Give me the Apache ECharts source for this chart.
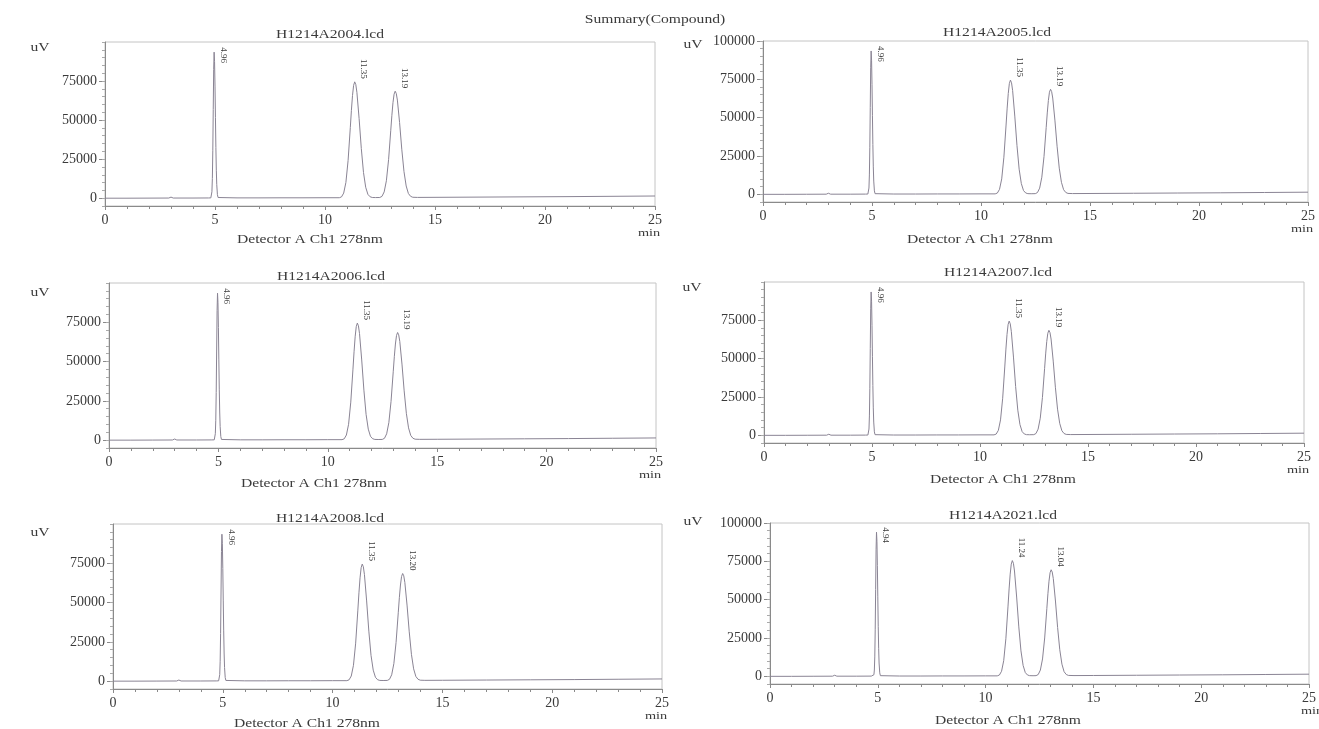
<!DOCTYPE html>
<html><head><meta charset="utf-8">
<script src="https://cdn.jsdelivr.net/npm/echarts@6/dist/echarts.min.js"></script>
<style>html,body{margin:0;padding:0;background:#fff}#c{width:1319px;height:729px}</style>
</head><body><div id="c"></div>
<script>
// ---------- data ----------
const summaryTitle = 'Summary(Compound)';
const fileNames = ['H1214A2004.lcd','H1214A2005.lcd','H1214A2006.lcd','H1214A2007.lcd','H1214A2008.lcd','H1214A2021.lcd'];
const detectorName = 'Detector A Ch1 278nm';
const xUnit = 'min';
const yUnit = 'uV';
const xTickValues = [0,5,10,15,20,25];
const yTickValuesShort = [0,25000,50000,75000];
const yTickValuesFull = [0,25000,50000,75000,100000];
const peakLabels = [
  ['4.96','11.35','13.19'],
  ['4.96','11.35','13.19'],
  ['4.96','11.35','13.19'],
  ['4.96','11.35','13.19'],
  ['4.96','11.35','13.20'],
  ['4.94','11.24','13.04']
];
const peakTimes = [
  [4.96,11.35,13.19],[4.96,11.35,13.19],[4.96,11.35,13.19],
  [4.96,11.35,13.19],[4.96,11.35,13.20],[4.94,11.24,13.04]
];
const peakHeights = [
  [93500,74500,68500],[93500,74500,68500],[93500,74500,68500],
  [93500,74500,68500],[93500,74500,68500],[94000,75500,69500]
];
// chromatogram trace read from runs 2004-2008 (time [min], signal [uV])
const traceA = [
[0,0],[1,0],[2,50],[2.9,100],[3.0,700],[3.1,100],[4,100],[4.7,150],[4.81,200],[4.84,1040],[4.86,4100],[4.88,12650],
[4.90,30360],[4.92,56710],[4.94,82510],[4.96,93500],[4.98,87510],[5.00,71770],[5.02,51570],[5.04,32460],[5.06,17900],
[5.08,8660],[5.11,2270],[5.14,440],[5.21,200],[6,200],[7,200],[8,250],[9,250],[10,300],[10.65,300],[10.75,830],
[10.85,3270],[10.95,10080],[11.05,24190],[11.15,45180],[11.20,56230],[11.25,65750],[11.30,72190],[11.35,74500],
[11.40,72760],[11.45,67780],[11.55,51030],[11.65,31810],[11.75,16390],[11.85,7000],[11.95,2460],[12.05,900],
[12.15,450],[12.3,400],[12.49,450],[12.59,1160],[12.69,4030],[12.79,11170],[12.89,24660],[12.99,43500],[13.04,53090],
[13.09,61170],[13.14,66580],[13.19,68500],[13.24,67030],[13.29,62810],[13.39,48410],[13.49,31370],[13.59,17080],
[13.69,7820],[13.79,3010],[13.89,1200],[13.99,600],[14.2,500],[15,550],[17,700],[19,850],[21,1000],[23,1200],[25,1400]
];
// chromatogram trace read from run 2021
const traceB = [
[0,0],[1,0],[2,50],[2.9,100],[3.0,700],[3.1,100],[4,100],[4.7,150],[4.79,200],[4.82,1040],[4.84,4100],[4.86,12650],
[4.88,30360],[4.90,56710],[4.92,82510],[4.94,94000],[4.96,87970],[4.98,72150],[5.00,51840],[5.02,32640],[5.04,18000],
[5.06,8700],[5.09,2280],[5.12,440],[5.19,200],[6,200],[7,200],[8,250],[9,250],[10,300],[10.54,300],[10.64,840],
[10.74,3310],[10.84,10210],[10.94,24510],[11.04,45790],[11.09,56990],[11.14,66630],[11.19,73160],[11.24,75500],
[11.29,73730],[11.34,68690],[11.44,51720],[11.54,32240],[11.64,16610],[11.74,7100],[11.84,2490],[11.94,900],
[12.04,450],[12.2,400],[12.34,450],[12.44,1170],[12.54,4090],[12.64,11330],[12.74,25020],[12.84,44130],[12.89,53860],
[12.94,62060],[12.99,67550],[13.04,69500],[13.09,68010],[13.14,63720],[13.24,49120],[13.34,31830],[13.44,17330],
[13.54,7940],[13.64,3050],[13.74,1200],[13.84,600],[14.1,500],[15,550],[17,700],[19,850],[21,1000],[23,1200],[25,1400]
];
const traces = [traceA, traceA, traceA, traceA, traceA, traceB];

// ---------- layout ----------
const panels = [
  {l:105, r:655, t:42,  b:206, title:[330,35],  det:[310,240], uv:[40,48],  full:false},
  {l:763, r:1308,t:41,  b:202, title:[997,33],  det:[980,240], uv:[693,45], full:true},
  {l:109, r:656, t:283, b:448, title:[331,277], det:[314,484], uv:[40,293], full:false},
  {l:764, r:1304,t:282, b:443, title:[998,273], det:[1003,480],uv:[692,288],full:false},
  {l:113, r:662, t:524, b:689, title:[330,519], det:[307,724], uv:[40,533], full:false},
  {l:770, r:1318,t:523, b:684, title:[1003,516],det:[1008,721],uv:[693,522],full:true}
];
const FONT = '"Liberation Serif", "DejaVu Serif", serif';
const TXT = '#3a3a3a';
const AX = '#8a8a8a';
const LINE = '#8a8494';
const STRETCH = 1.3;

const grids = [], xAxes = [], yAxes = [], series = [];

panels.forEach((p, i) => {
  grids.push({left:p.l, top:p.t, width:p.r - p.l, height:p.b - p.t, show:true, borderColor:'#c4c4c4', borderWidth:1, backgroundColor:'transparent'});
  xAxes.push({
    type:'value', gridIndex:i, min:0, max:25, interval:5,
    axisLine:{show:true, onZero:false, lineStyle:{color:AX}},
    axisTick:{show:true, length:4, lineStyle:{color:AX}},
    minorTick:{show:true, splitNumber:5, length:3, lineStyle:{color:AX}},
    splitLine:{show:false}, minorSplitLine:{show:false},
    axisLabel:{color:TXT, fontFamily:FONT, fontSize:14, margin:7, customValues:xTickValues}
  });
  const yt = p.full ? yTickValuesFull : yTickValuesShort;
  yAxes.push({
    type:'value', gridIndex:i, min:-5000, max:100000,
    axisLine:{show:true, onZero:false, lineStyle:{color:AX}},
    axisTick:{show:true, length:6, customValues:yt, lineStyle:{color:AX}},
    axisLabel:{color:TXT, fontFamily:FONT, fontSize:14, margin:8, customValues:yt, formatter:(v) => String(v)},
    splitLine:{show:false}
  });
  yAxes.push({
    type:'value', gridIndex:i, min:-5000, max:100000, interval:5000, position:'left',
    axisLine:{show:false}, axisTick:{show:true, length:3, lineStyle:{color:'#aaa'}},
    axisLabel:{show:false}, splitLine:{show:false}
  });
  series.push({
    type:'line', xAxisIndex:i, yAxisIndex:2*i, data:traces[i], showSymbol:false, symbol:'none',
    lineStyle:{color:LINE, width:1}, silent:true, z:3
  });
});

const chart = echarts.init(document.getElementById('c'), null, {renderer:'canvas'});
chart.setOption({
  backgroundColor:'#ffffff', animation:false,
  grid:grids, xAxis:xAxes, yAxis:yAxes, series:series
});

// ---------- texts (peak labels positioned through the axes' scales) ----------
const graphics = [];
function txt(x, y, s, size, sx) {
  return {type:'text', x:x, y:y, scaleX:sx || STRETCH,
    style:{text:s, font:size + 'px ' + FONT, fill:TXT, align:'center', verticalAlign:'middle'}};
}
graphics.push(txt(655, 20, summaryTitle, 12));
panels.forEach((p, i) => {
  graphics.push(txt(p.title[0], p.title[1], fileNames[i], 12));
  graphics.push(txt(p.det[0], p.det[1], detectorName, 12));
  graphics.push(txt(p.r - 6, p.b + 27, xUnit, 11));
  graphics.push(txt(p.uv[0], p.uv[1], yUnit, 12));
  peakTimes[i].forEach((t, k) => {
    const h = peakHeights[i][k];
    const pt = chart.convertToPixel({xAxisIndex:i, yAxisIndex:2*i}, [t, h]);
    const high = pt[1] - 24 < p.t;
    graphics.push({
      type:'text', x:pt[0] + 9, y: high ? pt[1] - 5 : pt[1] - 3, rotation:-Math.PI/2,
      style:{text:peakLabels[i][k], font:'9px '+FONT, fill:TXT, align: high ? 'left' : 'right', verticalAlign:'middle'}
    });
  });
});
chart.setOption({graphic:graphics});
</script></body></html>
